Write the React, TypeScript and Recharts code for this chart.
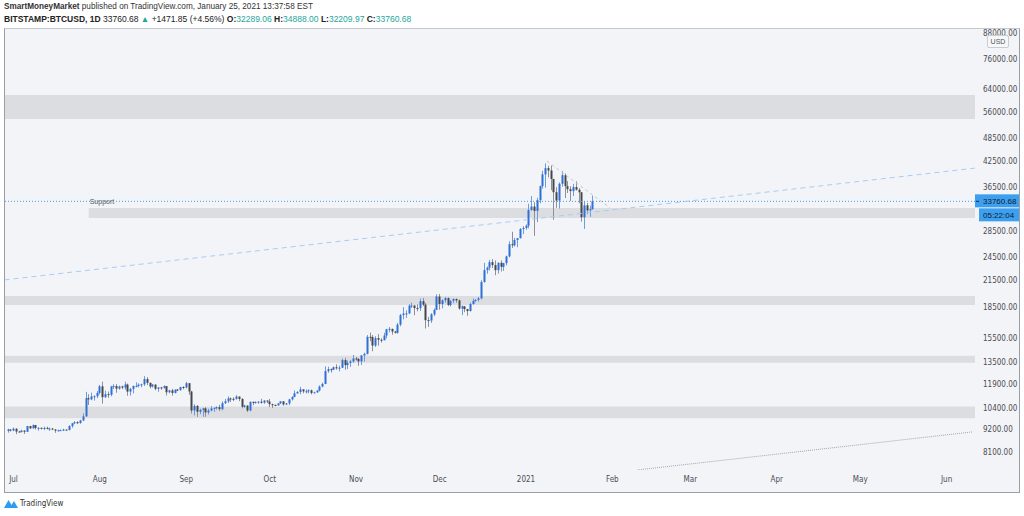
import React from 'react';
import { ComposedChart, Bar, XAxis, YAxis, ReferenceArea, ReferenceLine } from 'recharts';

// day index: 0 = Jul 1 2020 ; first candle = Jun 29 2020
const START_DAY = -2;

const opens = [
  9116, 9192,
  9138, 9232, 9086, 9058, 9135, 9073, 9375, 9252, 9428, 9277, 9278, 9240, 9277, 9243, 9243, 9192, 9132, 9151, 9159, 9185, 9164, 9374, 9525, 9581, 9536, 9677, 9905, 10990, 10912, 11100, 11111,
  11323, 11759, 11053, 11246, 11205, 11747, 11779, 11601, 11754, 11675, 11878, 11410, 11584, 11784, 11786, 11866, 11892, 12254, 11991, 11742, 11878, 11592, 11682, 11665, 11774, 11367, 11488, 11324, 11542, 11507, 11711,
  11680, 11971, 11414, 10246, 10512, 10169, 10280, 10369, 10131, 10242, 10363, 10400, 10442, 10323, 10680, 10796, 10974, 10948, 10944, 11094, 10938, 10462, 10538, 10246, 10760, 10692, 10750, 10775, 10709, 10844,
  10784, 10619, 10576, 10549, 10669, 10793, 10604, 10668, 10915, 11064, 11296, 11384, 11555, 11425, 11429, 11495, 11322, 11358, 11483, 11742, 11916, 12823, 12965, 12931, 13108, 13031, 13075, 13654, 13272, 13437, 13546,
  13781, 13737, 13550, 14023, 14147, 15590, 15580, 14833, 15479, 15332, 15290, 15701, 16276, 16317, 16068, 15955, 16716, 17645, 17804, 17817, 18621, 18642, 18370, 18364, 19107, 18732, 17150, 17108, 17717, 18177,
  19625, 18802, 19201, 19445, 18699, 19154, 19345, 19191, 18321, 18553, 18264, 18058, 18803, 19142, 19246, 19417, 21310, 22805, 23137, 23869, 23477, 22803, 23783, 23241, 23735, 24664, 26437, 26272, 27084, 27362, 28840,
  29001, 29374, 32127, 32782, 31971, 33992, 36824, 39371, 40797, 40254, 38356, 35566, 33922, 37316, 39187, 36825, 36178, 35792, 36630, 36070, 35547, 30826, 33005, 32067, 32289.06,
];

const highs = [
  9230, 9200,
  9295, 9260, 9125, 9180, 9140, 9380, 9380, 9460, 9435, 9310, 9300, 9340, 9340, 9290, 9265, 9210, 9180, 9190, 9230, 9200, 9420, 9540, 9640, 9630, 9720, 10080, 11390, 11240, 11340, 11170, 11450,
  11860, 12070, 11470, 11410, 11790, 11900, 11910, 11800, 11800, 12070, 11940, 11650, 11800, 12030, 11960, 11940, 12460, 12390, 12020, 11900, 11880, 11690, 11720, 11820, 11780, 11530, 11590, 11550, 11580, 11720, 11770,
  12060, 11980, 11460, 10620, 10570, 10350, 10400, 10440, 10350, 10500, 10410, 10480, 10580, 10790, 10940, 11100, 11030, 11040, 11170, 11090, 10990, 10580, 10540, 10780, 10780, 10790, 10800, 10950, 10860, 10850,
  10940, 10650, 10600, 10690, 10800, 10800, 10690, 10950, 11110, 11480, 11440, 11720, 11560, 11550, 11560, 11540, 11400, 11490, 11820, 12010, 13180, 13150, 13020, 13160, 13330, 13230, 13780, 13830, 13620, 13670, 14060,
  13900, 13810, 14060, 14240, 15750, 15970, 15760, 15650, 15840, 15460, 15950, 16320, 16480, 16330, 16140, 16880, 17770, 18470, 18130, 18790, 18950, 18680, 18760, 19390, 19460, 18900, 17450, 17850, 18330, 19860,
  19900, 19310, 19570, 19520, 19180, 19420, 19410, 19290, 18640, 18570, 18280, 18940, 19400, 19330, 19570, 21540, 23770, 23280, 24170, 24290, 24100, 23830, 24100, 23770, 24780, 26870, 28380, 27400, 27370, 28980, 29300,
  29600, 33300, 34780, 33600, 34450, 36940, 40180, 41950, 41350, 41420, 38360, 36600, 37600, 40100, 39600, 37900, 36800, 37300, 37850, 36400, 35600, 33800, 33450, 32950, 34888,
];

const lows = [
  9025, 9085,
  9105, 8950, 9040, 9040, 8960, 9060, 9220, 9240, 9190, 9130, 9190, 9160, 9200, 9120, 9160, 9020, 9090, 9120, 9110, 9135, 9150, 9280, 9480, 9480, 9500, 9650, 9880, 10570, 10860, 10840, 10990,
  11220, 10650, 11000, 11010, 11110, 11580, 11340, 11540, 11570, 11530, 11140, 11160, 11290, 11690, 11690, 11700, 11780, 11840, 11620, 11680, 11490, 11400, 11530, 11600, 11160, 11300, 11150, 11290, 11440, 11470, 11560,
  11620, 11200, 10070, 9960, 9880, 10030, 9880, 9880, 10010, 10200, 10160, 10290, 10220, 10250, 10630, 10690, 10750, 10810, 10900, 10800, 10370, 10400, 10150, 10200, 10560, 10650, 10640, 10650, 10640, 10680,
  10440, 10390, 10500, 10520, 10630, 10530, 10560, 10560, 10840, 11050, 11260, 11240, 11300, 11290, 11290, 11220, 11310, 11340, 11420, 11690, 11900, 12700, 12720, 12900, 12920, 12800, 13050, 12920, 12980, 13140, 13440,
  13620, 13220, 13280, 13530, 14100, 15210, 14360, 14720, 14820, 15090, 15280, 15460, 15990, 15780, 15880, 15870, 16560, 17230, 17360, 17750, 18380, 17640, 18030, 18070, 18570, 16350, 16500, 16880, 17540, 18170,
  18200, 18340, 18930, 18580, 18530, 18880, 18940, 18200, 17650, 17940, 17580, 18020, 18720, 19000, 19050, 19290, 21240, 22340, 22770, 23080, 22150, 22360, 22640, 22720, 23440, 24520, 25880, 26100, 25990, 27330, 28000,
  28700, 28950, 32000, 27730, 29980, 33400, 36300, 36500, 38720, 35980, 30400, 32530, 32400, 36700, 34400, 35400, 33850, 34800, 35900, 33400, 30070, 28850, 31400, 30900, 32209.97,
];

const closes = [
  9192, 9138,
  9232, 9086, 9058, 9135, 9073, 9375, 9252, 9428, 9277, 9278, 9240, 9277, 9243, 9243, 9192, 9132, 9151, 9159, 9185, 9164, 9374, 9525, 9581, 9536, 9677, 9905, 10990, 10912, 11100, 11111, 11323,
  11759, 11053, 11246, 11205, 11747, 11779, 11601, 11754, 11675, 11878, 11410, 11584, 11784, 11786, 11866, 11892, 12254, 11991, 11742, 11878, 11592, 11682, 11665, 11774, 11367, 11488, 11324, 11542, 11507, 11711, 11680,
  11971, 11414, 10246, 10512, 10169, 10280, 10369, 10131, 10242, 10363, 10400, 10442, 10323, 10680, 10796, 10974, 10948, 10944, 11094, 10938, 10462, 10538, 10246, 10760, 10692, 10750, 10775, 10709, 10844, 10784,
  10619, 10576, 10549, 10669, 10793, 10604, 10668, 10915, 11064, 11296, 11384, 11555, 11425, 11429, 11495, 11322, 11358, 11483, 11742, 11916, 12823, 12965, 12931, 13108, 13031, 13075, 13654, 13272, 13437, 13546, 13781,
  13737, 13550, 14023, 14147, 15590, 15580, 14833, 15479, 15332, 15290, 15701, 16276, 16317, 16068, 15955, 16716, 17645, 17804, 17817, 18621, 18642, 18370, 18364, 19107, 18732, 17150, 17108, 17717, 18177, 19625,
  18802, 19201, 19445, 18699, 19154, 19345, 19191, 18321, 18553, 18264, 18058, 18803, 19142, 19246, 19417, 21310, 22805, 23137, 23869, 23477, 22803, 23783, 23241, 23735, 24664, 26437, 26272, 27084, 27362, 28840, 29001,
  29374, 32127, 32782, 31971, 33992, 36824, 39371, 40797, 40254, 38356, 35566, 33922, 37316, 39187, 36825, 36178, 35792, 36630, 36070, 35547, 30826, 33005, 32067, 32289.06, 33760.68,
];

const monthTicks = [0, 31, 62, 92, 123, 153, 184, 215, 243, 274, 304, 335];
const monthLabels = ['Jul', 'Aug', 'Sep', 'Oct', 'Nov', 'Dec', '2021', 'Feb', 'Mar', 'Apr', 'May', 'Jun'];
const priceTicks = [8100, 9200, 10400, 11900, 13500, 15500, 18500, 21500, 24500, 28500, 36500, 42500, 48500, 56000, 64000, 76000, 88000];

// horizontal zones drawn on the chart: [low, high, start day (null = whole width)]
const zoneLows = [54000, 30710, 18700, 13440, 9806];
const zoneHighs = [61900, 32510, 19690, 13990, 10477];
const zoneStarts: (number | null)[] = [null, 27, null, null, null];

// drawn line tools: start/end day and price
const trendStartDays = [-3.2, 191.5, 223.9];
const trendStartPrices = [21570, 42490, 7296];
const trendEndDays = [345.5, 214.2, 344.5];
const trendEndPrices = [40830, 32510, 9070];
const trendColors = ['#a8cdf2', '#c3c6cc', '#a3a6ad'];
const trendDashes = ['5 4', '3 3', '1 1'];

const LAST_PRICE = 33760.68;
const COUNTDOWN = '05:22:04';
const X_DOMAIN = [-3.05, 345.2];
const Y_DOMAIN = [7296, 90715];

const data = closes.map((c, i) => ({
  d: START_DAY + i,
  open: opens[i],
  high: highs[i],
  low: lows[i],
  close: c,
}));

const UP = '#2f6fd6';
const DOWN = '#46474c';
const UP_WICK = '#6f9be0';
const DOWN_WICK = '#8d9096';
const FONT = "'Liberation Sans', Arial, sans-serif";
const AXIS_FONT = "'Liberation Sans Narrow', 'DejaVu Sans Condensed', 'Liberation Sans', sans-serif";

const Candle = (props: any) => {
  const { x, y, width, height, payload } = props;
  if (x == null || y == null || !payload) return null;
  const top = Math.min(y, y + height);
  const bot = Math.max(y, y + height);
  const lh = Math.log(payload.high);
  const ll = Math.log(payload.low);
  const span = lh - ll || 1;
  const py = (v: number) => top + ((bot - top) * (lh - Math.log(v))) / span;
  const cx = Math.round(x + width / 2) + 0.5;
  const up = payload.close >= payload.open;
  const yo = py(payload.open);
  const yc = py(payload.close);
  const bt = Math.min(yo, yc);
  const bh = Math.max(1, Math.abs(yo - yc));
  return (
    <g>
      <line x1={cx} x2={cx} y1={top} y2={bot} stroke={up ? UP_WICK : DOWN_WICK} strokeWidth={1} />
      <rect x={cx - 1} y={bt} width={2} height={bh} fill={up ? UP : DOWN} />
    </g>
  );
};

const PriceTag = (props: any) => {
  const vb = props.viewBox || {};
  const right = vb.x + vb.width;
  const y = vb.y;
  return (
    <g>
      <rect x={right} y={y - 7} width={44} height={13} fill="#3d9ff0" />
      <line x1={right + 1} x2={right + 4} y1={y} y2={y} stroke="#1b2a3a" strokeWidth={1} />
      <text x={right + 8} y={y} dy="0.35em" fontSize={8} fontFamily={FONT} fill="#10202e">
        {LAST_PRICE.toFixed(2)}
      </text>
      <rect x={right + 4} y={y + 7} width={40} height={13} fill="#3d9ff0" />
      <text x={right + 8} y={y + 13.5} dy="0.35em" fontSize={8} fontFamily={FONT} fill="#10202e">
        {COUNTDOWN}
      </text>
    </g>
  );
};

export default function App() {
  return (
    <div
      style={{
        position: 'absolute',
        left: 0,
        top: 0,
        width: 1024,
        height: 516,
        background: '#ffffff',
        fontFamily: FONT,
        overflow: 'hidden',
      }}
    >
      <div style={{ position: 'absolute', left: 4, top: 2, fontSize: 8.2, lineHeight: '10px', color: '#333', whiteSpace: 'nowrap' }}>
        <b>SmartMoneyMarket</b> published on TradingView.com, January 25, 2021 13:37:58 EST
      </div>
      <div style={{ position: 'absolute', left: 4, top: 14, fontSize: 8.5, lineHeight: '10px', color: '#222', whiteSpace: 'nowrap' }}>
        <b>BITSTAMP:BTCUSD, 1D</b> 33760.68 <span style={{ color: '#26a69a' }}>▲</span> +1471.85 (+4.56%){' '}
        <b>O:</b><span style={{ color: '#26a69a' }}>32289.06</span> <b>H:</b><span style={{ color: '#26a69a' }}>34888.00</span>{' '}
        <b>L:</b><span style={{ color: '#26a69a' }}>32209.97</span> <b>C:</b><span style={{ color: '#26a69a' }}>33760.68</span>
      </div>
      <div
        style={{
          position: 'absolute',
          left: 4,
          top: 28,
          width: 1014,
          height: 463,
          background: '#f3f4f7',
          borderTop: '1px solid #c5c8ce',
          borderLeft: '1px solid #9a9ea6',
          borderRight: '1px solid #9a9ea6',
          borderBottom: '1px solid #9a9ea6',
        }}
      />
      <div style={{ position: 'absolute', left: 0, top: 0 }}>
        <ComposedChart width={1024} height={516} data={data} margin={{ top: 28, right: 5, bottom: 24, left: 5 }}>
          <XAxis
            dataKey="d"
            type="number"
            domain={X_DOMAIN}
            allowDataOverflow
            ticks={monthTicks}
            interval={0}
            tickFormatter={(v: number) => monthLabels[monthTicks.indexOf(v)] ?? ''}
            axisLine={false}
            tickLine={false}
            tickSize={0}
            tickMargin={6}
            height={22}
            tick={{ fontSize: 8, fill: '#4a4d55', fontFamily: AXIS_FONT }}
          />
          <YAxis
            orientation="right"
            type="number"
            scale="log"
            domain={Y_DOMAIN}
            allowDataOverflow
            ticks={priceTicks}
            interval={0}
            tickFormatter={(v: number) => v.toFixed(2)}
            axisLine={false}
            tickLine={false}
            tickSize={0}
            tickMargin={8}
            width={44}
            tick={{ fontSize: 8, fill: '#4a4d55', fontFamily: AXIS_FONT }}
          />
          {zoneLows.map((lo, i) => (
            <ReferenceArea
              key={'z' + i}
              y1={lo}
              y2={zoneHighs[i]}
              x1={zoneStarts[i] ?? undefined}
              fill="#dcdde1"
              fillOpacity={1}
              stroke="none"
              ifOverflow="hidden"
              label={
                zoneStarts[i] != null
                  ? (p: any) => (
                      <text x={p.viewBox.x + 1} y={p.viewBox.y - 4} fontSize={7} fontFamily={FONT} fill="#555">
                        Support
                      </text>
                    )
                  : undefined
              }
            />
          ))}
          <ReferenceLine
            y={LAST_PRICE}
            stroke="#3d9ff0"
            strokeDasharray="1 2"
            label={(p: any) => <PriceTag viewBox={p.viewBox} />}
          />
          {trendStartDays.map((sd, i) => (
            <ReferenceLine
              key={'t' + i}
              segment={[
                { x: sd, y: trendStartPrices[i] },
                { x: trendEndDays[i], y: trendEndPrices[i] },
              ]}
              stroke={trendColors[i]}
              strokeDasharray={trendDashes[i]}
              strokeWidth={1}
              ifOverflow="hidden"
            />
          ))}
          <Bar
            dataKey={(e: any) => [e.low, e.high]}
            barSize={2}
            shape={<Candle />}
            isAnimationActive={false}
          />
        </ComposedChart>
      </div>
      <div
        style={{
          position: 'absolute',
          left: 987,
          top: 35,
          width: 20,
          height: 11,
          border: '1px solid #c9ccd2',
          borderRadius: 2,
          background: '#f6f7f9',
          fontSize: 7,
          lineHeight: '11px',
          textAlign: 'center',
          color: '#555',
        }}
      >
        USD
      </div>
      <div style={{ position: 'absolute', left: 4, top: 498, display: 'flex', alignItems: 'center', whiteSpace: 'nowrap' }}>
        <svg width={14} height={11} viewBox="0 0 14 11">
          <path d="M0 10 L4.5 2 L7.5 7 L10 3 L14 10 Z" fill="#2e9cf0" />
        </svg>
        <span style={{ fontSize: 8, color: '#333', marginLeft: 2, fontFamily: AXIS_FONT }}>TradingView</span>
      </div>
    </div>
  );
}
